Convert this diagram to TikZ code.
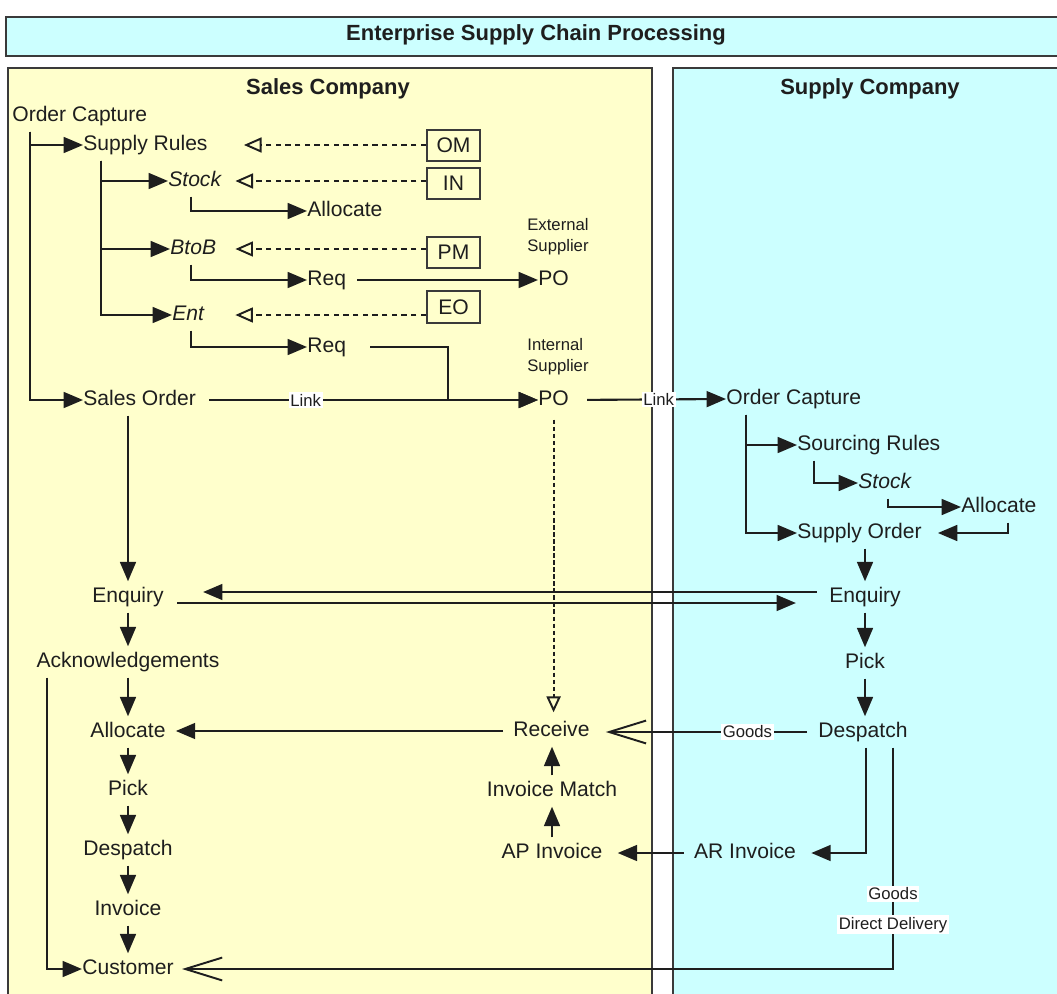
\documentclass[tikz,border=0pt]{standalone}
\usepackage{fontspec}
\setmainfont{Liberation Sans}
\usetikzlibrary{arrows.meta,calc}
\definecolor{salesfill}{HTML}{FFFFCC}
\definecolor{supplyfill}{HTML}{CCFFFF}
\definecolor{frame}{HTML}{3A3A3A}
\definecolor{ink}{HTML}{1E1E1E}
\begin{document}
\begin{tikzpicture}[x=0.02cm,y=-0.02cm,
  panel/.style={draw=frame,line width=1.2pt},
  lbl/.style={anchor=west,inner xsep=0pt,inner ysep=3pt,text height=9pt,text depth=2.5pt,
    font=\fontsize{12}{14}\selectfont,text=ink},
  ital/.style={lbl,font=\fontsize{12}{14}\selectfont\itshape},
  clbl/.style={lbl,anchor=center},
  heading/.style={font=\bfseries\fontsize{12.5}{14}\selectfont,text=ink,inner sep=0pt},
  tag/.style={fill=white,inner sep=1pt,font=\fontsize{9.5}{11}\selectfont,text=ink},
  note/.style={anchor=west,align=left,inner sep=0pt,font=\fontsize{9.5}{12}\selectfont,text=ink},
  srcbox/.style={draw=frame,line width=1.1pt,minimum width=1.06cm,minimum height=0.63cm,
    inner sep=0pt,font=\fontsize{12}{14}\selectfont,text=ink},
  arr/.style={draw=ink,line width=1.2pt,-{Triangle[length=11pt,width=9pt]}},
  dasharr/.style={draw=ink,line width=1.1pt,dash pattern=on 3pt off 2.5pt,
    -{Triangle[open,length=10pt,width=8.5pt,line width=1.1pt]}},
  dotarr/.style={draw=ink,line width=1.2pt,dash pattern=on 2.5pt off 1.5pt,
    -{Triangle[open,length=9pt,width=8pt,line width=1.1pt]}},
  barb/.style={draw=ink,line width=1.1pt,-{Straight Barb[length=21pt,width=13pt]}},
  gapstart/.style={shorten <=#1*0.02cm},
  gapend/.style={shorten >=#1*0.02cm}]

\useasboundingbox (0,0) rectangle (1057,993);

% panels
\draw[panel,fill=supplyfill] (6,17) rectangle (1070,56);
\draw[panel,fill=salesfill] (8,68) rectangle (652,1010);
\draw[panel,fill=supplyfill] (673,68) rectangle (1070,1010);

\node[heading] (ttl) at (536,35) {Enterprise Supply Chain Processing};
\node[heading] (salesttl) at (328,89) {Sales Company};
\node[heading] (supplyttl) at (870,89) {Supply Company};

% sales company: order capture and sourcing tree
\node[lbl] (oc1) at (12,116) {Order Capture};
\node[lbl] (sr) at (83,145) {Supply Rules};
\node[ital] (stk1) at (168,181) {Stock};
\node[lbl] (al1) at (307,211) {Allocate};
\node[ital] (btob) at (170,249) {BtoB};
\node[lbl] (rq1) at (307,280) {Req};
\node[ital] (ent) at (172,315) {Ent};
\node[lbl] (rq2) at (307,347) {Req};
\node[lbl] (so) at (83,400) {Sales Order};

\node[srcbox] (om) at (453.5,145.5) {OM};
\node[srcbox] (inb) at (453.5,183.5) {IN};
\node[srcbox] (pm) at (453.5,252.5) {PM};
\node[srcbox] (eo) at (453.5,307) {EO};

\node[note] (ext) at (527,237) {External\\Supplier};
\node[note] (int) at (527,357) {Internal\\Supplier};
\node[lbl] (po1) at (538,280) {PO};
\node[lbl] (po2) at (538,400) {PO};

% sales company: fulfilment column
\node[clbl] (enq1) at (128,597) {Enquiry};
\node[clbl] (ack) at (128,662) {Acknowledgements};
\node[clbl] (al2) at (128,732) {Allocate};
\node[clbl] (pk1) at (128,790) {Pick};
\node[clbl] (dp1) at (128,850) {Despatch};
\node[clbl] (iv1) at (128,910) {Invoice};
\node[clbl] (cus) at (128,969) {Customer};
\node[lbl] (rcv) at (513,731) {Receive};
\node[clbl] (im) at (552,791) {Invoice Match};
\node[clbl] (ap) at (552,853) {AP Invoice};

% supply company
\node[lbl] (oc2) at (726,399) {Order Capture};
\node[lbl] (scr) at (797,445) {Sourcing Rules};
\node[ital] (stk2) at (858,483) {Stock};
\node[lbl] (al3) at (961,507) {Allocate};
\node[lbl] (sord) at (797,533) {Supply Order};
\node[clbl] (enq2) at (865,597) {Enquiry};
\node[clbl] (pk2) at (865,663) {Pick};
\node[clbl] (dp2) at (863,732) {Despatch};
\node[clbl] (ar) at (745,853) {AR Invoice};

% sales tree connectors
\draw[arr] ($(oc1.south west)+(18,0)$) |- (sr.west);
\draw[arr] ($(oc1.south west)+(18,0)$) |- (so.west);
\draw[arr] ($(sr.south west)+(18,0)$) |- (stk1.west);
\draw[arr] ($(sr.south west)+(18,0)$) |- (btob.west);
\draw[arr] ($(sr.south west)+(18,0)$) |- (ent.west);
\draw[arr] ($(stk1.south west)+(23,0)$) |- (al1.west);
\draw[arr] ($(btob.south west)+(21,0)$) |- (rq1.west);
\draw[arr] ($(ent.south west)+(19,0)$) |- (rq2.west);

% master data feeds
\draw[dasharr,gapend=36] (om.west |- sr.east) -- (sr.east);
\draw[dasharr,gapend=14] (inb.west |- stk1.east) -- (stk1.east);
\draw[dasharr,gapend=19] (pm.west |- btob.east) -- (btob.east);
\draw[dasharr,gapend=31] (eo.west |- ent.east) -- (ent.east);

% purchase orders
\draw[arr,gapstart=11] (rq1.east) -- (po1.west);
\draw[arr,gapstart=24] (rq2.east) -| ($(po2.west)+(-90,0)$) -- (po2.west);
\draw[arr,gapstart=13] (so.east) -- node[tag,pos=0.32]{Link} (po2.west);
\draw[arr,gapstart=18] (po2.east) -- node[tag,pos=0.57]{Link} (oc2.west);
\draw[dotarr,gapstart=4,gapend=3] (po2.south) -- (po2.south |- rcv.north);

% sales fulfilment
\draw[arr] (so.south -| enq1.north) -- (enq1.north);
\draw[arr] (enq1.south) -- (ack.north);
\draw[arr] (ack.south) -- (al2.north);
\draw[arr] (al2.south) -- (pk1.north);
\draw[arr] (pk1.south) -- (dp1.north);
\draw[arr] (dp1.south) -- (iv1.north);
\draw[arr] (iv1.south) -- (cus.north);
\draw[arr] ($(ack.south west)+(11,0)$) |- (cus.west);

% enquiry exchange
\draw[arr] ($(enq2.west)+(-12,-5)$) -- ($(enq1.east)+(39,-5)$);
\draw[arr] ($(enq1.east)+(13,6)$) -- ($(enq2.west)+(-33,6)$);

% supply tree
\draw[arr] ($(oc2.south west)+(20,0)$) |- (scr.west);
\draw[arr] ($(oc2.south west)+(20,0)$) |- (sord.west);
\draw[arr] ($(scr.south west)+(17,0)$) |- (stk2.west);
\draw[arr] ($(stk2.south west)+(30,0)$) |- (al3.west);
\draw[arr,gapend=16] ($(al3.south west)+(47,0)$) |- (sord.east);
\draw[arr] (sord.south -| enq2.north) -- (enq2.north);
\draw[arr] (enq2.south) -- (pk2.north);
\draw[arr] (pk2.south) -- (pk2.south |- dp2.north);

% goods and invoices
\draw[barb,gapstart=11,gapend=16] (dp2.west) -- node[tag,pos=0.31]{Goods} (dp2.west -| rcv.east);
\draw[arr,gapstart=10,gapend=10] (rcv.west) -- (rcv.west -| al2.east);
\draw[arr,gapend=15] ($(dp2.south)+(3,0)$) |- (ar.east);
\draw[arr,gapstart=10,gapend=15] (ar.west) -- (ar.west -| ap.east);
\draw[arr] (ap.north) -- (im.south);
\draw[arr] (im.north) -- (im.north |- rcv.south);
\draw[barb,gapend=8] ($(dp2.south)+(30,0)$) |- node[tag,pos=0.33]{Goods}
  node[tag,pos=0.40]{Direct Delivery} (cus.east);

\end{tikzpicture}
\end{document}
